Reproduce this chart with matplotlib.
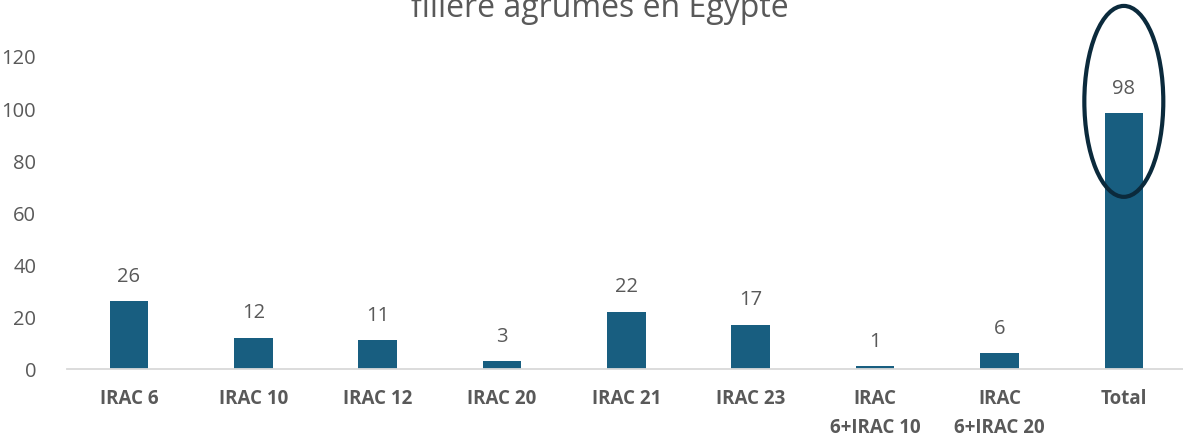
import matplotlib
matplotlib.use("Agg")
import matplotlib.pyplot as plt
from matplotlib.patches import Ellipse

categories = ["IRAC 6", "IRAC 10", "IRAC 12", "IRAC 20", "IRAC 21", "IRAC 23",
              "IRAC\n6+IRAC 10", "IRAC\n6+IRAC 20", "Total"]
values = [26, 12, 11, 3, 22, 17, 1, 6, 98]
yticks = [0, 20, 40, 60, 80, 100, 120]
title = "filière agrumes en Egypte"

bar_color = "#185E80"
text_color = "#595959"

plt.rcParams['font.family'] = ['Open Sans', 'DejaVu Sans']

fig = plt.figure(figsize=(11.83, 4.39), dpi=100)
ax = fig.add_axes([66.8 / 1183, 69 / 439, (1186 - 66.8) / 1183, (370 - 57) / 439])

x = list(range(len(categories)))
bars = ax.bar(x, values, width=0.31, color=bar_color, zorder=2)
ax.set_xlim(-0.5, len(categories) - 0.5)
ax.set_ylim(0, 120)
ax.set_yticks(yticks)
ax.set_yticklabels([str(t) for t in yticks], fontsize=14.5, color=text_color)
ax.set_xticks(x)
ax.set_xticklabels(categories, fontsize=13.5, fontweight='bold', color=text_color,
                   linespacing=1.6)
ax.tick_params(axis='y', length=0, pad=22)
ax.tick_params(axis='x', length=0, pad=14)
for s in ['top', 'right', 'left']:
    ax.spines[s].set_visible(False)
ax.spines['bottom'].set_color('#D9D9D9')
ax.spines['bottom'].set_linewidth(1.3)

for xi, v in zip(x, values):
    ax.annotate(str(v), (xi, v), xytext=(0, 11), textcoords='offset points',
                ha='center', va='bottom', fontsize=14.5, color=text_color)

ell = Ellipse((8, 102.6), width=0.635, height=73.2, fill=False,
              edgecolor='#0B2A3C', linewidth=3, clip_on=False, zorder=3)
ax.add_patch(ell)

fig.text(600 / 1183, 1 - 17 / 439, title, ha='center', va='baseline',
         fontsize=23, color=text_color)

fig.savefig("out.png", dpi=100)
